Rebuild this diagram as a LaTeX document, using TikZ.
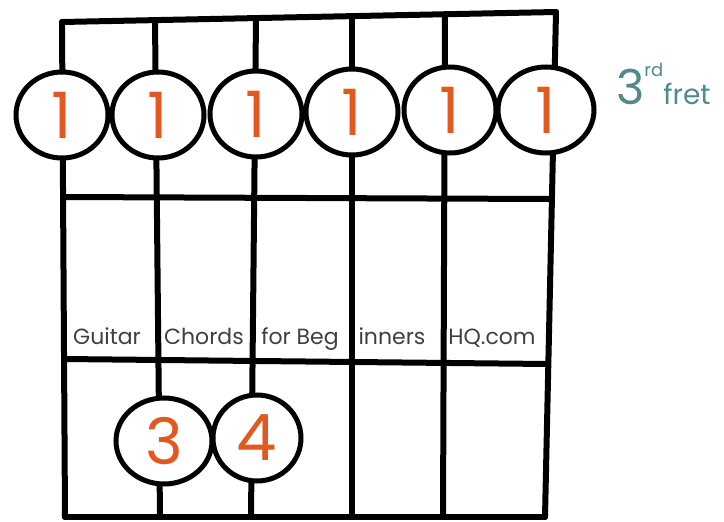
\documentclass[tikz,border=0pt]{standalone}
\usepackage{fontspec}
\usetikzlibrary{shapes.geometric}
\setmainfont{Poppins}
\definecolor{orangedoigt}{RGB}{226,88,30}
\definecolor{sarcelle}{RGB}{82,138,140}

\begin{document}
\begin{tikzpicture}[x=1pt, y=-1pt, line cap=round,
    trait/.style={line width=6pt},
    doigt/.style={ellipse, draw, line width=5pt, fill=white, minimum width=92pt, minimum height=86pt,
        inner sep=0pt, text=orangedoigt, font=\fontsize{64}{64}\selectfont},
    cellule/.style={anchor=base, text=black!75, font=\fontsize{22}{22}\selectfont}]
    \useasboundingbox (0,0) rectangle (724,522);

    % Haut et bas des cordes
    \coordinate (haut1) at (62,22);
    \coordinate (haut2) at (155,20);
    \coordinate (haut3) at (256,18);
    \coordinate (haut4) at (352,16);
    \coordinate (haut5) at (445,14);
    \coordinate (haut6) at (556,12);
    \coordinate (bas1) at (65,517);
    \coordinate (bas2) at (160,517);
    \coordinate (bas3) at (251,517);
    \coordinate (bas4) at (352,517);
    \coordinate (bas5) at (443,517);
    \coordinate (bas6) at (545,517);

    % Cordes
    \draw[trait] (haut1) -- (bas1);
    \draw[trait] (haut2) -- (bas2);
    \draw[trait] (haut3) -- (bas3);
    \draw[trait] (haut4) -- (bas4);
    \draw[trait] (haut5) -- (bas5);
    \draw[trait] (haut6) -- (bas6);

    % Frettes
    \coordinate (frette1g) at (63,197);
    \coordinate (frette1d) at (549,199);
    \coordinate (frette2g) at (64,359);
    \coordinate (frette2d) at (547,364);
    \draw[trait] (haut1) -- (haut6);
    \draw[trait] (frette1g) -- (frette1d);
    \draw[trait] (frette2g) -- (frette2d);
    \draw[trait] (bas1) -- (bas6);

    % Barre de l'index
    \node[doigt] (barre1) at (62,115) {1};
    \node[doigt] (barre2) at (158,115) {1};
    \node[doigt] (barre3) at (256,114) {1};
    \node[doigt] (barre4) at (352,112) {1};
    \node[doigt] (barre5) at (450,110) {1};
    \node[doigt, minimum width=96pt] (barre6) at (546,110) {1};

    % Annulaire et auriculaire
    \node[doigt, minimum width=96pt] (annulaire) at (164,441) {3};
    \node[doigt, minimum width=88pt] (auriculaire) at (257,438) {4};

    % Texte du site
    \node[cellule] (texte1) at (107,344) {Guitar};
    \node[cellule] (texte2) at (204,344) {Chords};
    \node[cellule] (texte3) at (300,344) {for Beg};
    \node[cellule] (texte4) at (392,344) {inners};
    \node[cellule] (texte5) at (492,344) {HQ.com};

    % Case
    \node[anchor=base west, inner sep=0pt, text=sarcelle] (case) at (616,104)
        {{\fontsize{48}{48}\selectfont 3}{\fontsize{18}{18}\selectfont\raisebox{28pt}{rd}}{\fontsize{28}{28}\selectfont fret}};
\end{tikzpicture}
\end{document}
